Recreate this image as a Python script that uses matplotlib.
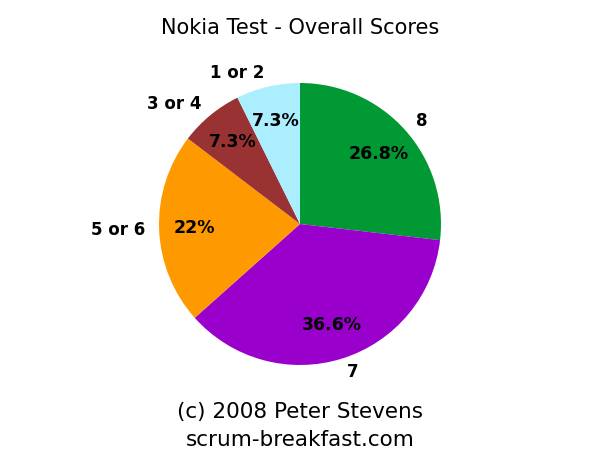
import matplotlib
matplotlib.use('Agg')
import matplotlib.pyplot as plt

labels = ['8', '7', '5 or 6', '3 or 4', '1 or 2']
counts = [11, 15, 9, 3, 3]
colors = ['#009933', '#9900cc', '#ff9900', '#993333', '#aaeeff']


def fmt(p):
    s = '%.1f' % p
    if s.endswith('.0'):
        s = s[:-2]
    return s + '%'


fig = plt.figure(figsize=(6, 4.63), dpi=100)
ax = fig.add_axes([0.265, 0.2117, 0.47, 0.609])
wedges, texts, autotexts = ax.pie(counts, labels=labels, colors=colors,
                                  startangle=90, counterclock=False,
                                  autopct=fmt, pctdistance=0.75,
                                  labeldistance=1.1,
                                  textprops={'fontsize': 12, 'fontweight': 'bold'})
for t in autotexts:
    t.set_fontsize(12.5)
ax.set_xlim(-1, 1)
ax.set_ylim(-1, 1)
ax.set_aspect('equal')

fig.text(0.5, 0.94, 'Nokia Test - Overall Scores', ha='center', va='center', fontsize=15)
fig.text(0.5, 0.11, '(c) 2008 Peter Stevens', ha='center', va='center', fontsize=15.5)
fig.text(0.5, 0.05, 'scrum-breakfast.com', ha='center', va='center', fontsize=15.5)

fig.savefig('out.png', dpi=100)
